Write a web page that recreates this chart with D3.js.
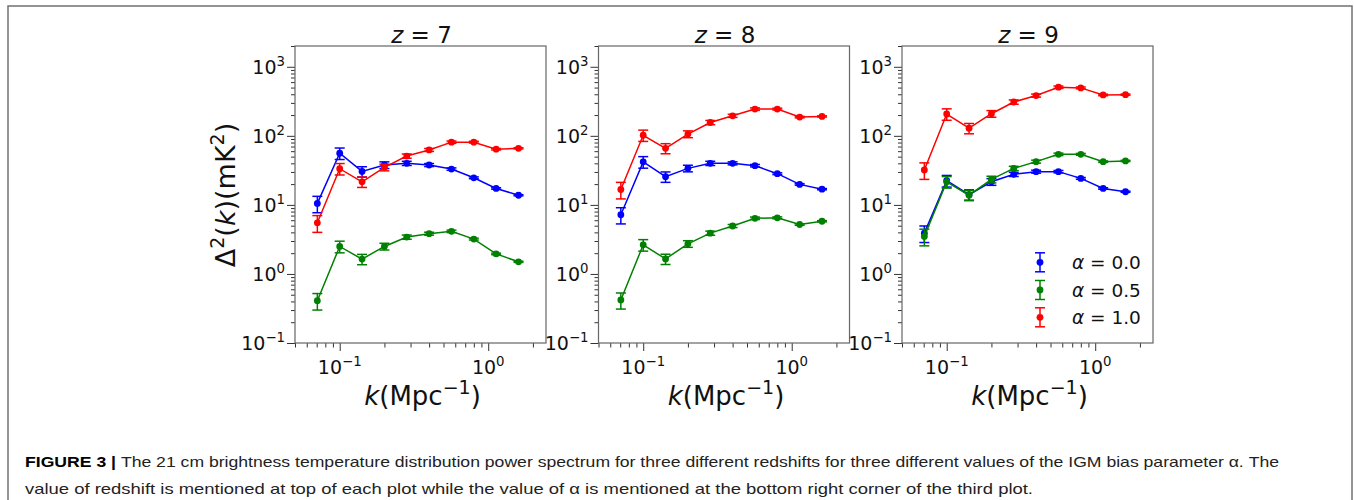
<!DOCTYPE html>
<html><head><meta charset="utf-8">
<script src="https://cdn.jsdelivr.net/npm/d3@7"></script>
<style>body{margin:0;background:#fff} svg{display:block}</style>
</head><body>
<svg id="c" width="1354" height="500"></svg>
<script>
// ---------------- data ----------------
const kValues = [0.0707, 0.1, 0.1414, 0.2, 0.2828, 0.4, 0.5657, 0.8, 1.131, 1.6];
const redshifts = [7, 8, 9];
const alphaLabels = ["0.0", "0.5", "1.0"];
const seriesColors = ["#0000ff", "#008000", "#ff0000"];
const xMajorTicks = [0.1, 1];
const xTickExponents = ["−1", "0"];
const yMajorTicks = [0.1, 1, 10, 100, 1000];
const yTickExponents = ["−1", "0", "1", "2", "3"];
const xLimits = [0.05, 2.45];
const yLimits = [0.1, 2000];

// z = 7
const z7_a00 = [10.5, 56, 30.5, 37.8, 40, 37.8, 33, 24.7, 17.3, 13.8];
const z7_a00_err = [2.8, 10.6, 5.2, 4.2, 2.8, 1.9, 1.3, 0.74, 0.43, 0.28];
const z7_a05 = [0.41, 2.5, 1.64, 2.5, 3.42, 3.83, 4.14, 3.2, 1.95, 1.5];
const z7_a05_err = [0.11, 0.48, 0.28, 0.28, 0.24, 0.19, 0.17, 0.1, 0.05, 0.03];
const z7_a10 = [5.5, 33.4, 21.6, 35, 51, 62.5, 81, 81, 64, 66];
const z7_a10_err = [1.5, 6.3, 3.7, 3.9, 3.6, 3.1, 3.2, 2.4, 1.6, 1.3];
// z = 8
const z8_a00 = [7.2, 42, 25.6, 33.8, 40, 40, 37, 28.3, 19.8, 16.9];
const z8_a00_err = [1.9, 8, 4.4, 3.7, 2.8, 2, 1.5, 0.85, 0.5, 0.34];
const z8_a05 = [0.42, 2.64, 1.65, 2.73, 3.9, 4.95, 6.4, 6.5, 5.2, 5.8];
const z8_a05_err = [0.11, 0.5, 0.28, 0.3, 0.27, 0.25, 0.26, 0.2, 0.13, 0.12];
const z8_a10 = [16.7, 102, 66, 106, 156, 195, 244, 244, 187, 191];
const z8_a10_err = [4.5, 19, 11, 12, 11, 10, 10, 7.3, 4.7, 3.8];
// z = 9
const z9_a00 = [3.9, 22.4, 14.1, 21.6, 27.7, 30.3, 30.3, 24.2, 17.3, 15.5];
const z9_a00_err = [1.05, 4.3, 2.4, 2.4, 1.9, 1.5, 1.2, 0.73, 0.43, 0.31];
const z9_a05 = [3.5, 21.6, 13.8, 23.4, 33.8, 42.3, 54, 54, 42.3, 43.3];
const z9_a05_err = [0.95, 4.1, 2.3, 2.6, 2.4, 2.1, 2.2, 1.6, 1.06, 0.87];
const z9_a10 = [32, 207, 129, 209, 309, 383, 506, 495, 391, 395];
const z9_a10_err = [8.6, 39, 22, 23, 22, 19, 20, 15, 10, 8];

const captionLine1Bold = "FIGURE 3 | ";
const captionLine1 = "The 21 cm brightness temperature distribution power spectrum for three different redshifts for three different values of the IGM bias parameter α. The";
const captionLine2 = "value of redshift is mentioned at top of each plot while the value of α is mentioned at the bottom right corner of the third plot.";

const panels = [
  {z: redshifts[0], series: [[z7_a00, z7_a00_err], [z7_a05, z7_a05_err], [z7_a10, z7_a10_err]]},
  {z: redshifts[1], series: [[z8_a00, z8_a00_err], [z8_a05, z8_a05_err], [z8_a10, z8_a10_err]]},
  {z: redshifts[2], series: [[z9_a00, z9_a00_err], [z9_a05, z9_a05_err], [z9_a10, z9_a10_err]]}
];

// ---------------- layout ----------------
const svg = d3.select("#c");
const FONT = "'DejaVu Sans', sans-serif";
const panelLeft = [295, 598.5, 902];
const panelW = 251, plotTop = 46, plotBottom = 343;
const capHalf = 5, markerR = 3.4;
const TICK_FS = 19;

svg.append("rect").attr("x", 8).attr("y", 6).attr("width", 1344).attr("height", 520)
  .attr("fill", "none").attr("stroke", "#707070").attr("stroke-width", 1.5);

function supLabel(sel, base, exp, size) {
  sel.append("tspan").text(base);
  sel.append("tspan").attr("dy", -size * 0.42).attr("font-size", size * 0.7).text(exp);
}

panels.forEach((p, i) => {
  const x0 = panelLeft[i];
  const x = d3.scaleLog().domain(xLimits).range([x0, x0 + panelW]);
  const y = d3.scaleLog().domain(yLimits).range([plotBottom, plotTop]);
  const g = svg.append("g");

  const yMinor = y.ticks().filter(v => !yMajorTicks.some(m => Math.abs(m - v) / m < 1e-6));
  const xMinor = x.ticks().filter(v => !xMajorTicks.some(m => Math.abs(m - v) / m < 1e-6));
  const styleAxis = a => { a.select(".domain").remove(); a.selectAll("line").attr("stroke", "#333").attr("stroke-width", 1); };
  g.append("g").attr("transform", `translate(${x0},0)`)
    .call(d3.axisLeft(y).tickValues(yMinor).tickSize(4).tickFormat("")).call(styleAxis);
  g.append("g").attr("transform", `translate(${x0},0)`)
    .call(d3.axisLeft(y).tickValues(yMajorTicks).tickSize(8).tickFormat("")).call(styleAxis);
  g.append("g").attr("transform", `translate(0,${plotBottom})`)
    .call(d3.axisBottom(x).tickValues(xMinor).tickSize(4.5).tickFormat("")).call(styleAxis);
  g.append("g").attr("transform", `translate(0,${plotBottom})`)
    .call(d3.axisBottom(x).tickValues(xMajorTicks).tickSize(8).tickFormat("")).call(styleAxis);

  yMajorTicks.forEach((v, j) => {
    const t = g.append("text").attr("x", x0 - 10).attr("y", y(v) + 7)
      .attr("text-anchor", "end").attr("font-family", FONT).attr("font-size", TICK_FS).attr("fill", "#111");
    supLabel(t, "10", yTickExponents[j], TICK_FS);
  });
  xMajorTicks.forEach((v, j) => {
    const t = g.append("text").attr("x", x(v)).attr("y", 373.5)
      .attr("text-anchor", "middle").attr("font-family", FONT).attr("font-size", TICK_FS).attr("fill", "#111");
    supLabel(t, "10", xTickExponents[j], TICK_FS);
  });

  g.append("rect").attr("x", x0).attr("y", plotTop).attr("width", panelW).attr("height", plotBottom - plotTop)
    .attr("fill", "none").attr("stroke", "#666").attr("stroke-width", 1.2);

  const tt = g.append("text").attr("x", x0 + panelW / 2 + 1).attr("y", 43).attr("text-anchor", "middle")
    .attr("font-family", FONT).attr("font-size", 23).attr("fill", "#111");
  tt.append("tspan").attr("font-style", "italic").text("z");
  tt.append("tspan").text(" = " + p.z);

  const xl = g.append("text").attr("x", x0 + panelW / 2 + 2).attr("y", 405).attr("text-anchor", "middle")
    .attr("font-family", FONT).attr("font-size", 26).attr("fill", "#111");
  xl.append("tspan").attr("font-style", "italic").text("k");
  xl.append("tspan").text("(Mpc");
  xl.append("tspan").attr("dy", -11).attr("font-size", 19).text("−1");
  xl.append("tspan").attr("dy", 11).text(")");

  const line = d3.line().x((d, j) => x(kValues[j])).y(d => y(d));
  p.series.forEach((s, si) => {
    const vals = s[0], errs = s[1], col = seriesColors[si];
    const sg = g.append("g");
    vals.forEach((v, j) => {
      const cx = x(kValues[j]), yt = y(v + errs[j]), yb = y(Math.max(v - errs[j], 1e-3));
      sg.append("line").attr("x1", cx).attr("x2", cx).attr("y1", yt).attr("y2", yb).attr("stroke", col).attr("stroke-width", 1.5);
      [yt, yb].forEach(yy => sg.append("line").attr("x1", cx - capHalf).attr("x2", cx + capHalf)
        .attr("y1", yy).attr("y2", yy).attr("stroke", col).attr("stroke-width", 1.5));
    });
    sg.append("path").attr("d", line(vals)).attr("fill", "none").attr("stroke", col).attr("stroke-width", 1.5);
    sg.selectAll("circle").data(vals).join("circle")
      .attr("cx", (d, j) => x(kValues[j])).attr("cy", d => y(d)).attr("r", markerR).attr("fill", col);
  });
});

const yl = svg.append("text").attr("transform", "translate(235,195) rotate(-90)").attr("text-anchor", "middle")
  .attr("font-family", FONT).attr("font-size", 27).attr("fill", "#111");
yl.append("tspan").text("Δ");
yl.append("tspan").attr("dy", -11).attr("font-size", 19).text("2");
yl.append("tspan").attr("dy", 11).text("(");
yl.append("tspan").attr("font-style", "italic").text("k");
yl.append("tspan").text(")(mK");
yl.append("tspan").attr("dy", -11).attr("font-size", 19).text("2");
yl.append("tspan").attr("dy", 11).text(")");

const legX = 1040, legTextX = 1072, legY = [262.3, 290, 317.3];
alphaLabels.forEach((a, i) => {
  const col = seriesColors[i], cy = legY[i];
  svg.append("line").attr("x1", legX).attr("x2", legX).attr("y1", cy - 9.5).attr("y2", cy + 9.5).attr("stroke", col).attr("stroke-width", 1.5);
  [cy - 9.5, cy + 9.5].forEach(yy => svg.append("line").attr("x1", legX - capHalf).attr("x2", legX + capHalf)
    .attr("y1", yy).attr("y2", yy).attr("stroke", col).attr("stroke-width", 1.5));
  svg.append("circle").attr("cx", legX).attr("cy", cy).attr("r", markerR).attr("fill", col);
  const t = svg.append("text").attr("x", legTextX).attr("y", cy + 7).attr("font-family", FONT).attr("font-size", 18.5).attr("fill", "#111");
  t.append("tspan").attr("font-style", "italic").text("α");
  t.append("tspan").text(" = " + a);
});

const c1 = svg.append("text").attr("x", 25).attr("y", 467).attr("font-family", "'Liberation Sans', Arial, sans-serif")
  .attr("font-size", 15).attr("fill", "#222").attr("textLength", 1254).attr("lengthAdjust", "spacingAndGlyphs");
c1.append("tspan").attr("font-weight", "bold").attr("fill", "#000").text(captionLine1Bold);
c1.append("tspan").text(captionLine1);
svg.append("text").attr("x", 25).attr("y", 493.5).attr("font-family", "'Liberation Sans', Arial, sans-serif")
  .attr("font-size", 15).attr("fill", "#222").attr("textLength", 1008).attr("lengthAdjust", "spacingAndGlyphs")
  .text(captionLine2);
</script>
</body></html>
